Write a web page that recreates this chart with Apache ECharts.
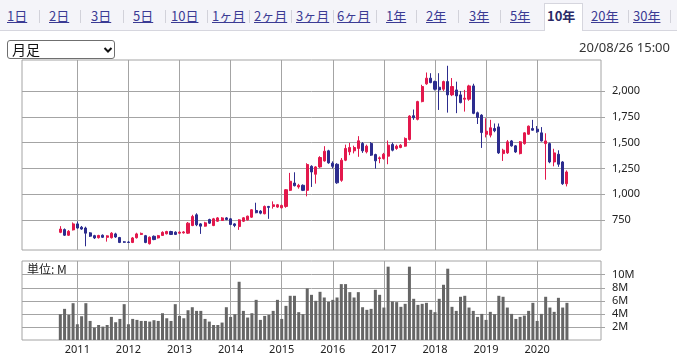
<!DOCTYPE html>
<html><head><meta charset="utf-8">
<script src="https://cdn.jsdelivr.net/npm/echarts@6/dist/echarts.min.js"></script>
<style>
html,body{margin:0;padding:0;background:#fff;width:677px;height:355px;overflow:hidden;font-family:"Noto Sans CJK JP","Noto Sans",sans-serif;}
#tabs{position:absolute;left:0;top:0;width:677px;height:30px;background:#f4f4f9;border-bottom:1px solid #d6d6de;z-index:2;}
.tab{position:absolute;top:7px;font-size:13px;line-height:17px;color:#3b3b94;text-decoration:underline;white-space:nowrap;}
.sep{position:absolute;top:10px;width:1px;height:13px;background:#d2d2da;}
#selbox{position:absolute;left:7px;top:3px;width:39px;height:28px;background:#fff;border:1px solid #d6d6de;border-bottom:none;box-sizing:border-box;}
#sel{position:absolute;left:7px;top:40px;width:108px;height:19px;border:1px solid #6f6f6f;border-radius:3px;background:#fff;box-sizing:border-box;z-index:2;}
#sel span{position:absolute;left:4px;top:0px;font-size:14px;line-height:17px;color:#111;}
#sel svg{position:absolute;left:95px;top:5px;}
#date{position:absolute;right:7px;top:39px;font-family:"Noto Sans",sans-serif;font-size:13px;line-height:17px;color:#333;z-index:2;}
#chart{position:absolute;left:0;top:0;width:677px;height:355px;z-index:1;}
</style></head>
<body>
<div id="tabs"></div>
<div id="sel"><span>月足</span><svg width="10" height="8" viewBox="0 0 10 8"><polyline points="1.5,2 5,5.5 8.5,2" fill="none" stroke="#111" stroke-width="2"/></svg></div>
<div id="date">20/08/26 15:00</div>
<div id="chart"></div>
<script>
// ---- tab labels ----
const tabLabels = ['1日','2日','3日','5日','10日','1ヶ月','2ヶ月','3ヶ月','6ヶ月','1年','2年','3年','5年','10年','20年','30年'];
const selectedTab = '10年';

// ---- data (monthly, Sep 2010 .. Aug 2020) ----
const firstMonth = [2010, 9];
const opens = [630,657,602,654,
 712,680,672,625,598,578,602,582,578,615,580,538,
 536,532,578,610,598,520,592,576,600,616,638,632,
 622,625,622,696,800,712,690,754,696,738,745,770,
 761,712,686,738,751,777,842,836,810,881,881,875,
 868,881,1037,1108,1070,1086,1037,1270,1193,1264,1322,1420,
 1300,1290,1134,1329,1410,1420,1443,1491,1410,1491,1384,1345,
 1345,1368,1482,1443,1452,1465,1530,1760,1725,1897,2069,2124,
 2091,2036,2017,2091,1962,2010,1962,1920,1920,2049,1789,1766,
 1580,1572,1636,1652,1393,1400,1516,1468,1393,1490,1581,1636,
 1630,1594,1490,1490,1312,1387,1312,1101];
const closes = [662,602,640,712,
 672,662,622,593,576,600,582,596,622,585,532,534,
 532,576,615,620,532,583,560,598,630,638,610,610,
 632,634,719,784,703,690,722,719,761,770,770,754,
 706,696,751,771,787,849,820,816,881,872,897,897,
 891,1043,1125,1082,1086,1037,1287,1215,1264,1355,1416,1303,
 1270,1110,1329,1443,1452,1452,1517,1420,1465,1378,1323,1352,
 1387,1475,1426,1465,1475,1540,1757,1740,1897,2043,2124,2081,
 2017,2010,2091,1962,2043,1952,1887,1930,2049,1783,1743,1597,
 1610,1643,1614,1400,1426,1507,1468,1409,1507,1594,1659,1620,
 1605,1516,1516,1312,1400,1290,1101,1215];
const lows = [622,595,595,648,
 665,655,495,585,566,570,575,540,570,577,526,528,
 528,526,570,604,525,512,554,570,595,610,604,604,
 615,618,615,690,690,615,685,712,690,732,740,748,
 700,680,654,730,745,770,815,805,805,761,860,868,
 862,868,1030,1075,1053,1030,979,1070,1102,1255,1315,1295,
 1250,1100,1120,1320,1378,1395,1362,1400,1395,1370,1248,1300,
 1335,1290,1415,1430,1445,1460,1520,1720,1715,1890,2060,2075,
 2005,1816,2000,1790,1950,1785,1880,1800,1905,1775,1680,1448,
 1550,1550,1600,1390,1322,1390,1460,1400,1385,1480,1575,1615,
 1595,1510,1140,1300,1270,1265,1090,1075];
const highs = [690,668,652,726,
 735,692,685,632,606,606,610,602,632,626,586,545,
 545,585,626,628,605,590,600,605,640,645,645,640,
 640,642,730,800,815,720,732,762,770,778,778,778,
 768,718,757,778,792,855,917,845,890,886,930,905,
 898,1050,1206,1212,1100,1095,1300,1280,1272,1368,1465,1430,
 1318,1300,1350,1480,1497,1470,1562,1505,1480,1505,1392,1365,
 1400,1520,1500,1480,1485,1550,1765,1820,1905,2060,2179,2172,
 2100,2172,2100,2244,2125,2090,2000,2010,2060,2070,1800,1775,
 1735,1720,1685,1685,1440,1525,1525,1475,1515,1600,1665,1720,
 1660,1650,1590,1500,1440,1425,1320,1230];
const volumes = [3.95,4.77,3.85,5.64,
 2.41,3.64,5.64,2.92,1.90,2.30,2.05,2.30,3.54,2.72,3.23,5.49,
 2.41,3.23,3.08,2.92,2.92,2.82,3.03,2.92,4.10,3.33,2.92,5.49,
 3.69,3.33,4.56,5.02,4.46,4.46,3.23,2.82,2.30,2.30,2.67,5.02,
 3.54,3.95,8.92,4.46,3.44,4.10,6.15,3.08,3.69,3.85,4.46,6.15,
 3.23,5.23,6.77,6.77,4.26,3.95,7.90,6.92,6.00,7.38,6.51,5.85,
 6.15,6.51,8.56,8.56,7.33,6.51,7.33,5.02,4.62,4.77,7.69,6.92,
 4.97,11.23,5.90,5.80,5.08,5.54,11.23,6.31,5.38,5.54,5.69,4.62,
 4.26,6.31,8.46,10.92,5.08,4.46,6.62,6.77,4.97,4.46,3.54,4.00,
 3.08,4.31,3.95,6.77,6.62,4.97,4.00,3.23,3.54,3.74,4.46,5.69,
 2.92,4.00,6.62,4.97,4.31,6.46,4.97,5.69];
const priceTicks = [750,1000,1250,1500,1750,2000];
const volumeTicks = [2,4,6,8,10];
const yearLabels = ['2011','2012','2013','2014','2015','2016','2017','2018','2019','2020'];
// axis range months (Dec 2009 .. Apr 2021)
const axisStart = [2009, 12], axisEnd = [2021, 4];

function ym(y, m){ return y + '-' + (m < 10 ? '0' + m : '' + m); }
const months = [];
{ let y = axisStart[0], m = axisStart[1];
  while (y < axisEnd[0] || (y === axisEnd[0] && m <= axisEnd[1])) { months.push(ym(y, m)); m++; if (m > 12) { m = 1; y++; } } }
const dataMonths = [];
{ let y = firstMonth[0], m = firstMonth[1];
  for (let i = 0; i < opens.length; i++) { dataMonths.push(ym(y, m)); m++; if (m > 12) { m = 1; y++; } } }

// tabs
(function(){
  const lefts = [7,49,91,133,171,212,254,296,337,386,426,469,510,547,591,633];
  const seps = [39,80,123,165,207,249,291,333,376,416,458,500,628,670];
  const t = document.getElementById('tabs');
  const box = document.createElement('div'); box.id='selbox'; box.style.left='544px'; t.appendChild(box);
  tabLabels.forEach((s,i)=>{ const d=document.createElement('div'); d.className='tab'; d.textContent=s; d.style.left=lefts[i]+'px';
    if(s===selectedTab){ d.style.fontWeight='bold'; d.style.textDecoration='none'; d.style.color='#2a2a66'; }
    t.appendChild(d); });
  seps.forEach(x=>{ const d=document.createElement('div'); d.className='sep'; d.style.left=x+'px'; t.appendChild(d); });
})();

const RED = '#e3184c', BLUE = '#2c2c8e', GRID = '#a4a4a4';
const candleData = dataMonths.map((m,i)=>[m, opens[i], closes[i], lows[i], highs[i]]);
const volData = dataMonths.map((m,i)=>[m, volumes[i]]);
const isYearStart = (idx, val) => /-01$/.test(val) && yearLabels.indexOf(String(val).slice(0,4)) >= 0;
const lblFont = {fontFamily:'Noto Sans', fontSize:11, color:'#222'};

const chart = echarts.init(document.getElementById('chart'), null, {renderer:'canvas'});
chart.setOption({
  animation:false,
  backgroundColor:'transparent',
  grid:[
    {left:22, top:60, width:579, height:190, show:true, borderColor:GRID, borderWidth:1, backgroundColor:'transparent'},
    {left:22, top:261, width:579, height:79, show:true, borderColor:GRID, borderWidth:1, backgroundColor:'transparent'}
  ],
  xAxis:[
    {gridIndex:0, type:'category', data:months, boundaryGap:false,
     axisLine:{show:false}, axisTick:{show:false}, axisLabel:{show:false},
     splitLine:{show:true, interval:isYearStart, lineStyle:{color:GRID, width:1}}},
    {gridIndex:1, type:'category', data:months, boundaryGap:false,
     axisLine:{show:false}, axisTick:{show:false},
     axisLabel:Object.assign({show:true, interval:isYearStart, margin:4, formatter:v=>v.slice(0,4)}, lblFont),
     splitLine:{show:true, interval:isYearStart, lineStyle:{color:GRID, width:1}}}
  ],
  yAxis:[
    {gridIndex:0, type:'value', position:'right', min:459, max:2300, scale:true,
     axisLine:{show:false},
     axisTick:{show:true, length:4, lineStyle:{color:GRID}, customValues:priceTicks},
     axisLabel:Object.assign({customValues:priceTicks, margin:11, formatter:v=>Number(v).toLocaleString('en-US')}, lblFont),
     splitLine:{show:true, lineStyle:{color:GRID, width:1}}},
    {gridIndex:1, type:'value', position:'right', min:0, max:12.1,
     axisLine:{show:false},
     axisTick:{show:true, length:4, lineStyle:{color:GRID}, customValues:volumeTicks},
     axisLabel:Object.assign({customValues:volumeTicks, margin:11, formatter:v=>v+'M'}, lblFont),
     splitLine:{show:true, lineStyle:{color:GRID, width:1}}}
  ],
  graphic:[{type:'text', left:27, top:263, style:{text:'単位: M', fontSize:12, fontFamily:'Noto Sans CJK JP', fill:'#222'}}],
  series:[
    {type:'candlestick', xAxisIndex:0, yAxisIndex:0, data:candleData, encode:{x:0, y:[1,2,3,4]},
     barWidth:2.6,
     itemStyle:{color:RED, color0:BLUE, borderColor:RED, borderColor0:BLUE, borderWidth:1}},
    {type:'bar', xAxisIndex:1, yAxisIndex:1, data:volData, encode:{x:0, y:1}, barWidth:3,
     itemStyle:{color:'#666666'}}
  ]
});
</script>
</body></html>
